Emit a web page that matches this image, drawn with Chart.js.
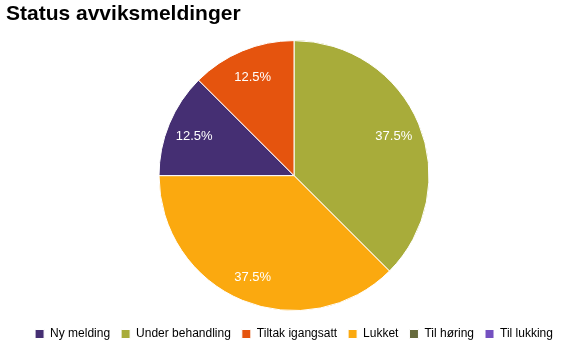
<!DOCTYPE html>
<html>
<head>
<meta charset="utf-8">
<script src="https://cdn.jsdelivr.net/npm/chart.js@4"></script>
<style>
  html, body { margin: 0; padding: 0; background: #fff; }
  #wrap { width: 588px; height: 354px; }
</style>
</head>
<body>
<div id="wrap"><canvas id="myChart"></canvas></div>
<script>
// slices in drawing order (clockwise from 12 o'clock)
let categories = ['Under behandling', 'Lukket', 'Ny melding', 'Tiltak igangsatt', 'Til høring', 'Til lukking'];
let counts = [3, 3, 1, 1, 0, 0];
let colors = ['#a8ac3a', '#fba90f', '#452f73', '#e5540e', '#666a3c', '#7450c0'];
// order the legend shows them in
let legendOrder = ['Ny melding', 'Under behandling', 'Tiltak igangsatt', 'Lukket', 'Til høring', 'Til lukking'];

// percent text inside each slice
const sliceLabels = {
  id: 'sliceLabels',
  afterDatasetsDraw(chart) {
    const ctx = chart.ctx;
    const meta = chart.getDatasetMeta(0);
    const total = counts.reduce((a, b) => a + b, 0);
    ctx.save();
    ctx.fillStyle = '#fff';
    ctx.font = '13px "Liberation Sans", Arial, sans-serif';
    ctx.textAlign = 'center';
    ctx.textBaseline = 'middle';
    meta.data.forEach((arc, i) => {
      if (!counts[i]) return;
      const p = arc.getProps(['x', 'y', 'startAngle', 'endAngle', 'outerRadius'], true);
      const mid = (p.startAngle + p.endAngle) / 2;
      const r = p.outerRadius * 0.8;
      const pct = (counts[i] / total * 100).toFixed(1) + '%';
      ctx.fillText(pct, p.x + Math.cos(mid) * r, p.y + Math.sin(mid) * r + 2);
    });
    ctx.restore();
  }
};

var chart = document.getElementById('myChart').getContext('2d');
var myChart = new Chart(chart, {
  type: 'pie',
  data: {
    labels: categories,
    datasets: [{
      data: counts,
      backgroundColor: colors,
      borderColor: '#fff',
      borderWidth: 1,
      radius: 135,
    }],
  },
  options: {
    responsive: true,
    maintainAspectRatio: false,
    animation: false,
    layout: { padding: { top: 0, bottom: 4, left: 6, right: 6 } },
    plugins: {
      title: {
        display: true,
        text: 'Status avviksmeldinger',
        align: 'start',
        color: '#000',
        font: { family: '"Liberation Sans", Arial, sans-serif', size: 21, weight: 'bold' },
        padding: { top: 2, bottom: 7 },
      },
      legend: {
        display: true,
        position: 'bottom',
        labels: {
          color: '#000',
          boxWidth: 9,
          boxHeight: 9,
          padding: 11,
          font: { family: '"Liberation Sans", Arial, sans-serif', size: 12 },
          sort: (a, b) => legendOrder.indexOf(a.text) - legendOrder.indexOf(b.text),
        },
      },
      tooltip: { enabled: false },
    },
  },
  plugins: [sliceLabels],
});
</script>
</body>
</html>
